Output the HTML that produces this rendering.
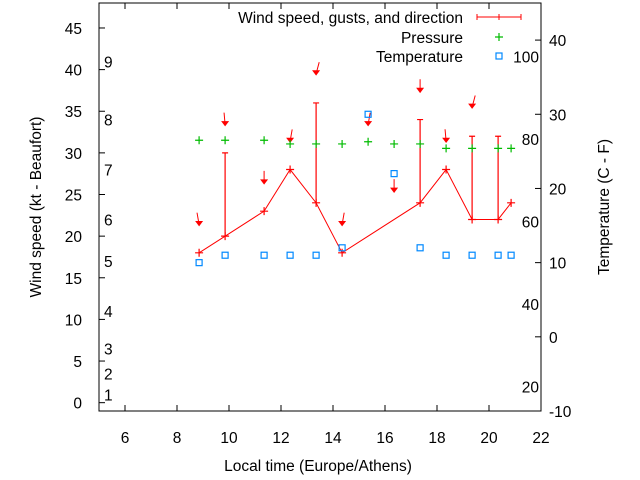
<!DOCTYPE html>
<html><head><meta charset="utf-8"><style>
body{margin:0;background:#fff}
svg{display:block;font-family:"Liberation Sans",sans-serif;font-size:15.5px}
</style></head><body>
<svg id="c" width="640" height="480"></svg>
<script>
const times=[8.85,9.85,11.35,12.35,13.35,14.35,17.35,18.35,19.35,20.35,20.85];
const speeds=[18,20,23,28,24,18,24,28,22,22,24];
const gustTimes=[9.85,13.35,17.35,19.35,20.35];
const gusts=[30,36,34,32,32];
const arrowTimes=[8.85,9.85,11.35,12.35,13.35,14.35,15.35,16.35,17.35,18.35,19.35];
const arrowSpeeds=[21.4,33.4,26.4,31.4,39.5,21.4,33.4,25.4,37.4,31.4,35.5];
const arrowDirs=[-10,-5,0,10,15,10,10,0,0,-5,15];
const presTimes=[8.85,9.85,11.35,12.35,13.35,14.35,15.35,16.35,17.35,18.35,19.35,20.35,20.85];
const pressure=[26.5,26.5,26.5,26.0,26.0,26.0,26.3,26.0,26.0,25.4,25.4,25.4,25.4];
const tempTimes=[8.85,9.85,11.35,12.35,13.35,14.35,15.35,16.35,17.35,18.35,19.35,20.35,20.85];
const temps=[10,11,11,11,11,12,30,22,12,11,11,11,11];
const xTicks=[6,8,10,12,14,16,18,20,22];
const yTicks=[0,5,10,15,20,25,30,35,40,45];
const y2Ticks=[-10,0,10,20,30,40];
const fTicks=[20,40,60,80,100];
const bftLabels=[1,2,3,4,5,6,7,8,9];
const bftKt=[1,3.5,6.5,11,17,22,28,34,41];

const L=99,R=541,T=3,B=411;
const X=v=>L+(v-5)/(22-5)*(R-L);
const Y=v=>B-(v+1)/49*(B-T);
const Y2=v=>B-(v+10)/55*(B-T);
const NS='http://www.w3.org/2000/svg';
const svg=document.getElementById('c');
function mk(tag,at,txt){const e=document.createElementNS(NS,tag);for(const k in at)e.setAttribute(k,at[k]);if(txt!==undefined)e.textContent=txt;svg.appendChild(e);return e;}

let e;
e=mk('rect',{x:L,y:T,width:R-L,height:B-T,fill:'none',stroke:'#000','stroke-width':1});


xTicks.forEach(t=>{
 e=mk('path',{d:`M${X(t)},${B}v-6M${X(t)},${T}v6`,stroke:'#000'});
 
 
 e=mk('text',{x:X(t),y:B+32,'text-anchor':'middle'},t);
 
 
});
yTicks.forEach(t=>{
 e=mk('path',{d:`M${L},${Y(t)}h6`,stroke:'#000'});
 
 
 e=mk('text',{x:L-17,y:Y(t)+6,'text-anchor':'end'},t);
 
 
});
y2Ticks.forEach(t=>{
 e=mk('path',{d:`M${R},${Y2(t)}h-6`,stroke:'#000'});
 
 
 e=mk('text',{x:R+8,y:Y2(t)+6,'text-anchor':'start'},t);
 
 
});
fTicks.forEach(t=>{
 e=mk('text',{x:R-2,y:Y2((t-32)*5/9)+6,'text-anchor':'end'},t);
 
 
});
bftLabels.forEach((b,i)=>{
 e=mk('text',{x:104,y:Y(bftKt[i])+6},b);
 
 
});
e=mk('text',{x:318,y:471,'text-anchor':'middle'},'Local time (Europe/Athens)');


e=mk('text',{x:0,y:0,'text-anchor':'middle',transform:'translate(41,207) rotate(-90)'},'Wind speed (kt - Beaufort)');


e=mk('text',{x:0,y:0,'text-anchor':'middle',transform:'translate(609,207) rotate(-90)'},'Temperature (C - F)');



e=mk('polyline',{points:times.map((t,i)=>X(t)+','+Y(speeds[i])).join(' '),fill:'none',stroke:'#f00','stroke-width':1});


gustTimes.forEach((t,i)=>{
 const j=times.indexOf(t);const x=X(t);
 e=mk('path',{d:`M${x},${Y(speeds[j])}V${Y(gusts[i])}M${x-3},${Y(gusts[i])}h6`,stroke:'#f00','stroke-width':1.2});
 
 
});
times.forEach((t,i)=>{
 const x=X(t),y=Y(speeds[i]);
 e=mk('path',{d:`M${x-4},${y}h8M${x},${y-4}v8`,stroke:'#f00','stroke-width':1.2});
 
 
});
arrowTimes.forEach((t,i)=>{
 const x=X(t),y=Y(arrowSpeeds[i]);const a=arrowDirs[i]*Math.PI/180;
 const tx=x+Math.sin(a)*12,ty=y-Math.cos(a)*12;
 e=mk('path',{d:`M${tx},${ty}L${x},${y}M${x-3},${y-3}L${x},${y+1}L${x+3},${y-3}Z`,stroke:'#f00',fill:'#f00','stroke-width':1});
 
 
});
presTimes.forEach((t,i)=>{
 const x=X(t),y=Y2(pressure[i]);
 e=mk('path',{d:`M${x-4},${y}h8M${x},${y-4}v8`,stroke:'#0b0','stroke-width':1.2});
 
 
});
tempTimes.forEach((t,i)=>{
 const x=X(t),y=Y2(temps[i]);
 e=mk('rect',{x:x-3,y:y-3,width:6,height:6,fill:'none',stroke:'#08f','stroke-width':1.2});
 
 
});
e=mk('text',{x:463,y:23,'text-anchor':'end'},'Wind speed, gusts, and direction');


e=mk('path',{d:'M477,17h44M477,14v6M521,14v6M499,14v6',stroke:'#f00'});


e=mk('text',{x:463,y:43,'text-anchor':'end'},'Pressure');


e=mk('path',{d:'M495,37h8M499,33v8',stroke:'#0b0','stroke-width':1.2});


e=mk('text',{x:463,y:62,'text-anchor':'end'},'Temperature');


e=mk('rect',{x:496,y:53,width:6,height:6,fill:'none',stroke:'#08f','stroke-width':1.2});


</script>
</body></html>
